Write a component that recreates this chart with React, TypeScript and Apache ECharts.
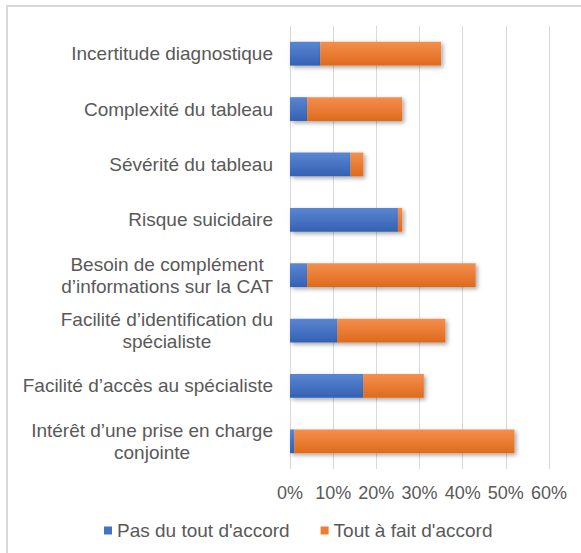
import React, { useEffect, useRef } from "react";
import * as echarts from "echarts";

const categories = [
  "Incertitude diagnostique",
  "Complexité du tableau",
  "Sévérité du tableau",
  "Risque suicidaire",
  "Besoin de complément\nd’informations sur la CAT",
  "Facilité d’identification du\nspécialiste",
  "Facilité d’accès au spécialiste",
  "Intérêt d’une prise en charge\nconjointe",
];
const pasDuTout = [7, 4, 14, 25, 4, 11, 17, 1];
const toutAFait = [28, 22, 3, 1, 39, 25, 14, 51];
const seriesNames = ["Pas du tout d'accord", "Tout à fait d'accord"];
const xTicks = { min: 0, max: 60, interval: 10 };

const FONT = "'Liberation Sans', Arial, sans-serif";
const TXT = "#595959";

export default function App() {
  const ref = useRef<HTMLDivElement>(null);
  useEffect(() => {
    if (!ref.current) return;
    const chart = echarts.init(ref.current, undefined, { renderer: "svg" });
    const grad = (a: string, b: string) =>
      new echarts.graphic.LinearGradient(0, 0, 0, 1, [
        { offset: 0, color: a },
        { offset: 1, color: b },
      ]);
    const shadow = {
      shadowColor: "rgba(0,0,0,0.35)",
      shadowBlur: 4,
      shadowOffsetX: 2,
      shadowOffsetY: 2,
    };
    chart.setOption({
      animation: false,
      backgroundColor: "#ffffff",
      textStyle: { fontFamily: FONT },
      graphic: [
        {
          type: "rect",
          shape: { x: 7, y: 6, width: 700, height: 700 },
          style: { fill: "none", stroke: "#d9d9d9", lineWidth: 2 },
          silent: true,
        },
      ],
      legend: {
        left: 99,
        top: 516,
        itemWidth: 8,
        itemHeight: 8,
        itemGap: 31,
        icon: "rect",
        textStyle: { fontSize: 19, color: TXT, fontFamily: FONT },
        data: seriesNames.map((n, i) => ({
          name: n,
          itemStyle: { color: i === 0 ? "#4472C4" : "#ED7D31", shadowBlur: 0, shadowOffsetX: 0, shadowOffsetY: 0 },
        })),
      },
      grid: { left: 290, right: 32, top: 26, bottom: 84, containLabel: false },
      xAxis: {
        type: "value",
        min: xTicks.min,
        max: xTicks.max,
        interval: xTicks.interval,
        axisLine: { show: false },
        axisTick: { show: false },
        splitLine: { lineStyle: { color: "#d9d9d9", width: 1 } },
        axisLabel: {
          formatter: "{value}%",
          fontSize: 18,
          color: TXT,
          fontFamily: FONT,
          margin: 15,
        },
      },
      yAxis: {
        type: "category",
        inverse: true,
        data: categories,
        axisLine: { show: false },
        axisTick: { show: false },
        splitLine: { show: false },
        axisLabel: {
          align: "right",
          margin: 17,
          color: TXT,
          fontSize: 19,
          fontFamily: FONT,
          lineHeight: 22,
          formatter: (v: string) =>
            v
              .split("\n")
              .map((l) => "{c|" + l + "}")
              .join("\n"),
          rich: {
            c: {
              align: "center",
              fontSize: 19,
              color: TXT,
              fontFamily: FONT,
              lineHeight: 22,
            },
          },
        },
      },
      series: [
        {
          name: seriesNames[0],
          type: "bar",
          stack: "s",
          barWidth: "43%",
          data: pasDuTout,
          itemStyle: { color: grad("#5a86d2", "#3461b3"), ...shadow },
        },
        {
          name: seriesNames[1],
          type: "bar",
          stack: "s",
          barWidth: "43%",
          data: toutAFait,
          itemStyle: { color: grad("#f48f4e", "#df6a1c"), ...shadow },
        },
      ],
    });
    return () => chart.dispose();
  }, []);
  return (
    <div
      ref={ref}
      style={{ position: "fixed", left: 0, top: 0, width: 581, height: 553 }}
    />
  );
}
